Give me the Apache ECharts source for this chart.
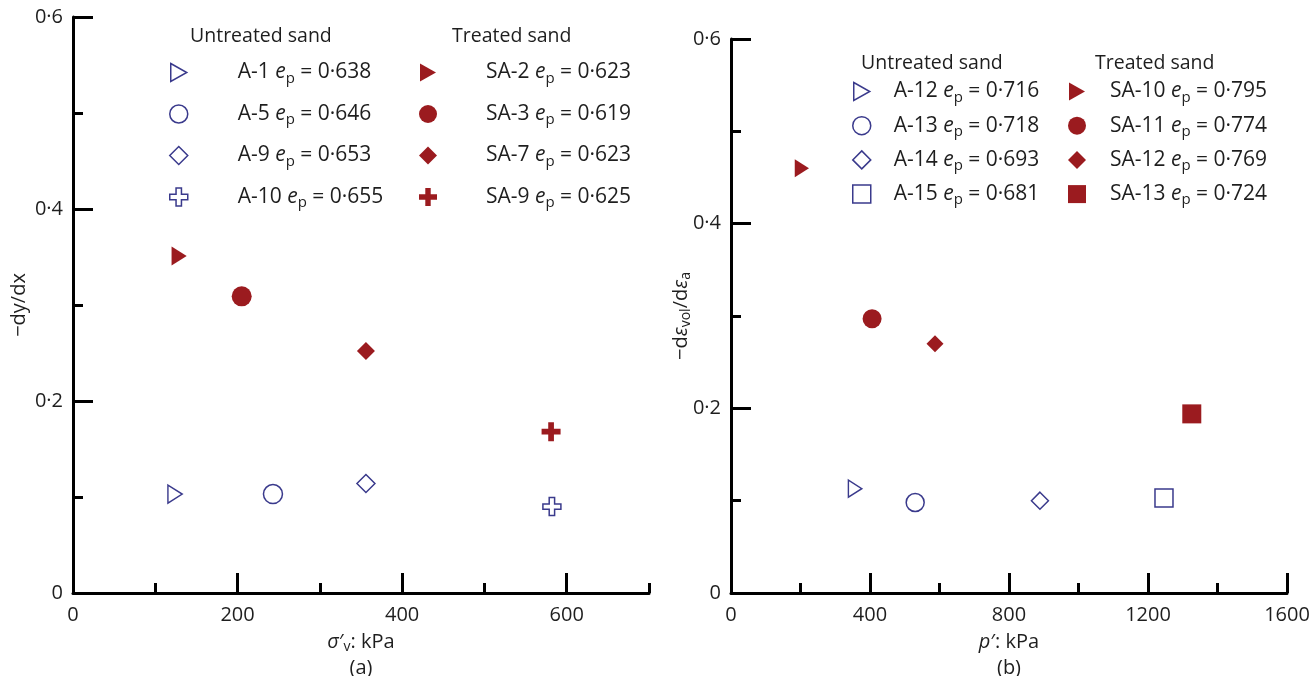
<!DOCTYPE html>
<html>
<head>
<meta charset="utf-8">
<script src="https://cdn.jsdelivr.net/npm/echarts@6/dist/echarts.min.js"></script>
<style>
  html, body { margin: 0; padding: 0; background: #ffffff; }
  #chart { width: 1316px; height: 676px; }
</style>
</head>
<body>
<div id="chart"></div>
<script>
// ---- Panel (a): -dy/dx against vertical effective stress ----
const aUntreatedNames  = ['A-1', 'A-5', 'A-9', 'A-10'];
const aUntreatedEp     = ['0·638', '0·646', '0·653', '0·655'];
const aUntreatedStress = [124, 243, 356, 582];
const aUntreatedSlope  = [0.103, 0.103, 0.114, 0.090];

const aTreatedNames  = ['SA-2', 'SA-3', 'SA-7', 'SA-9'];
const aTreatedEp     = ['0·623', '0·619', '0·623', '0·625'];
const aTreatedStress = [129, 205, 356, 581];
const aTreatedSlope  = [0.351, 0.309, 0.252, 0.168];

// ---- Panel (b): dilatancy against mean effective stress ----
const bUntreatedNames = ['A-12', 'A-13', 'A-14', 'A-15'];
const bUntreatedEp    = ['0·716', '0·718', '0·693', '0·681'];
const bUntreatedP     = [357, 530, 889, 1246];
const bUntreatedDil   = [0.113, 0.098, 0.100, 0.103];

const bTreatedNames = ['SA-10', 'SA-11', 'SA-12', 'SA-13'];
const bTreatedEp    = ['0·795', '0·774', '0·769', '0·724'];
const bTreatedP     = [204, 406, 587, 1326];
const bTreatedDil   = [0.460, 0.297, 0.270, 0.194];

// ---- Tick positions ----
const aXLabels = [0, 200, 400, 600];
const aXMajor  = [200, 400, 600];
const aXMinor  = [100, 300, 500, 700];
const bXLabels = [0, 400, 800, 1200, 1600];
const bXMajor  = [400, 800, 1200, 1600];
const bXMinor  = [200, 600, 1000, 1400];
const yLabels  = [0, 0.2, 0.4, 0.6];
const yMajor   = [0.2, 0.4, 0.6];
const yMinor   = [0.1, 0.3, 0.5];

const BLUE = '#3a3a8c';
const RED = '#9b1b1f';
const INK = '#1e1e1e';
const FONT = 'Open Sans';

// marker shapes
const TRI_RIGHT = 'path://M0,0 L16,9 L0,18 Z';
const CROSS = 'path://M7,0 H13 V7 H20 V13 H13 V20 H7 V13 H0 V7 H7 Z';

const epLookup = {};
[[aUntreatedNames, aUntreatedEp], [aTreatedNames, aTreatedEp],
 [bUntreatedNames, bUntreatedEp], [bTreatedNames, bTreatedEp]].forEach(([ns, es]) => {
  ns.forEach((n, i) => { epLookup[n] = es[i]; });
});

function richSet(size, sub, lh, drop) {
  return {
    n: { fontFamily: FONT, fontSize: size, color: INK, lineHeight: lh },
    i: { fontFamily: FONT, fontSize: size, color: INK, fontStyle: 'italic', lineHeight: lh },
    s: { fontFamily: FONT, fontSize: sub, color: INK, lineHeight: lh, padding: [drop, 0, 0, 0] }
  };
}
const legendRich = richSet(21, 15, 27, 12);
const nameRich = richSet(20, 14, 26, 11);

function legendBlock(names, left, top, gap, padLeft, hollow) {
  return {
    orient: 'vertical',
    left: left,
    top: top,
    padding: 0,
    itemGap: gap,
    itemWidth: 18,
    itemHeight: 18,
    selectedMode: false,
    data: names,
    formatter: name => '{n|' + name + ' }{i|e}{s|p}{n| = ' + epLookup[name] + '}',
    itemStyle: { borderWidth: hollow ? 1.5 : 0, opacity: 1 },
    textStyle: { padding: [0, 0, 0, padLeft], rich: legendRich }
  };
}

function scatterSet(names, xs, ys, symbols, sizes, hollow, axisIdx) {
  return names.map((name, i) => ({
    type: 'scatter',
    name: name,
    xAxisIndex: axisIdx,
    yAxisIndex: axisIdx,
    data: [[xs[i], ys[i]]],
    symbol: symbols[i],
    symbolSize: sizes[i],
    symbolKeepAspect: true,
    itemStyle: hollow
      ? { color: 'rgba(255,255,255,0)', borderColor: BLUE, borderWidth: 1.5, opacity: 1 }
      : { color: RED, borderWidth: 0, opacity: 1 },
    emphasis: { disabled: true }
  }));
}

const axisLine = { show: true, onZero: false, lineStyle: { color: '#000', width: 3 } };
const tickLine = { color: '#000', width: 3 };
const labelStyle = { fontFamily: FONT, fontSize: 20, color: INK };

function xAxisPair(gridIndex, max, labels, major, minor, name, nameGap) {
  return [{
    type: 'value', gridIndex: gridIndex, position: 'bottom', min: 0, max: max,
    axisLine: axisLine,
    axisTick: { show: true, inside: true, length: 20, customValues: major, lineStyle: tickLine },
    axisLabel: { show: true, margin: 12, customValues: labels, formatter: v => String(v), ...labelStyle },
    splitLine: { show: false },
    name: name, nameLocation: 'middle', nameGap: nameGap, nameMoveOverlap: false,
    nameTextStyle: { rich: nameRich, align: 'center' }
  }, {
    type: 'value', gridIndex: gridIndex, position: 'bottom', min: 0, max: max,
    axisLine: { show: false },
    axisTick: { show: true, inside: true, length: 10, customValues: minor, lineStyle: tickLine },
    axisLabel: { show: false },
    splitLine: { show: false }
  }];
}

function yAxisPair(gridIndex, name, nameGap) {
  return [{
    type: 'value', gridIndex: gridIndex, position: 'left', min: 0, max: 0.6,
    axisLine: axisLine,
    axisTick: { show: true, inside: true, length: 20, customValues: yMajor, lineStyle: tickLine },
    axisLabel: {
      show: true, margin: 10, customValues: yLabels,
      formatter: v => (v === 0 ? '0' : v.toFixed(1).replace('.', '·')), ...labelStyle
    },
    splitLine: { show: false },
    name: name, nameLocation: 'middle', nameRotate: 90, nameGap: nameGap, nameMoveOverlap: false,
    nameTextStyle: { rich: nameRich }
  }, {
    type: 'value', gridIndex: gridIndex, position: 'left', min: 0, max: 0.6,
    axisLine: { show: false },
    axisTick: { show: true, inside: true, length: 10, customValues: yMinor, lineStyle: tickLine },
    axisLabel: { show: false },
    splitLine: { show: false }
  }];
}

const headerStyle = { fontFamily: FONT, fontSize: 19.5, fontWeight: 'normal', color: INK };

const option = {
  animation: false,
  backgroundColor: '#ffffff',
  title: [
    { text: 'Untreated sand', left: 190, top: 26, padding: 0, textStyle: headerStyle },
    { text: 'Treated sand', left: 452, top: 26, padding: 0, textStyle: headerStyle },
    { text: 'Untreated sand', left: 861, top: 53, padding: 0, textStyle: headerStyle },
    { text: 'Treated sand', left: 1095, top: 53, padding: 0, textStyle: headerStyle }
  ],
  legend: [
    legendBlock(aUntreatedNames, 169, 59, 14.5, 45, true),
    legendBlock(aTreatedNames, 419, 59, 14.5, 44, false),
    legendBlock(bUntreatedNames, 852, 78, 7.2, 18, true),
    legendBlock(bTreatedNames, 1068, 78, 7.2, 19, false)
  ],
  grid: [
    { left: 73, top: 17, width: 576, height: 576, outerBoundsMode: 'none', containLabel: false },
    { left: 731, top: 39, width: 556, height: 554, outerBoundsMode: 'none', containLabel: false }
  ],
  xAxis: [
    ...xAxisPair(0, 700, aXLabels, aXMajor, aXMinor,
      '{i|σ}{n|′}{s|v}{n|: kPa}\n{n|(a)}', 36),
    ...xAxisPair(1, 1600, bXLabels, bXMajor, bXMinor,
      '{i|p}{n|′: kPa}\n{n|(b)}', 36)
  ],
  yAxis: [
    ...yAxisPair(0, '{n|−dy/dx}', 41),
    ...yAxisPair(1, '{n|−d}{i|ε}{s|vol}{n|/d}{i|ε}{s|a}', 37)
  ],
  series: [
    ...scatterSet(aUntreatedNames, aUntreatedStress, aUntreatedSlope,
      [TRI_RIGHT, 'circle', 'diamond', CROSS], [[16, 18], 19, [18, 18], [18, 18]], true, 0),
    ...scatterSet(aTreatedNames, aTreatedStress, aTreatedSlope,
      [TRI_RIGHT, 'circle', 'diamond', CROSS], [[17, 19], 20, [18, 18], [19, 19]], false, 0),
    ...scatterSet(bUntreatedNames, bUntreatedP, bUntreatedDil,
      [TRI_RIGHT, 'circle', 'diamond', 'rect'], [[15, 17], 18, [17, 17], 18], true, 2),
    ...scatterSet(bTreatedNames, bTreatedP, bTreatedDil,
      [TRI_RIGHT, 'circle', 'diamond', 'rect'], [[16, 18], 19, [17, 17], 19], false, 2)
  ]
};

const chart = echarts.init(document.getElementById('chart'), null, { renderer: 'canvas' });
chart.setOption(option);
</script>
</body>
</html>
